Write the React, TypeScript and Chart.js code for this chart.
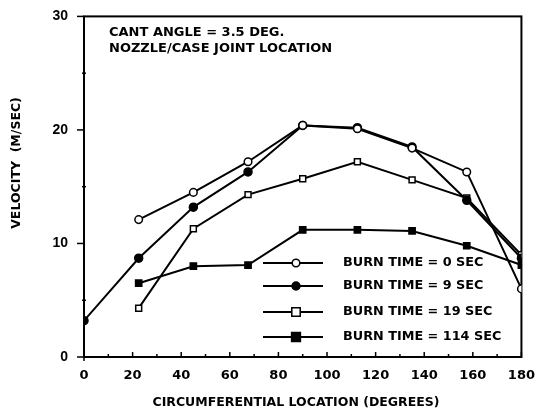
import React, { useEffect, useRef } from "react";
import { Chart, registerables } from "chart.js";

Chart.register(...registerables);

const DEGREES = [0, 22.5, 45, 67.5, 90, 112.5, 135, 157.5, 180];
const BURN_0 = [null, 12.1, 14.5, 17.2, 20.4, 20.1, 18.4, 16.3, 6.0];
const BURN_9 = [3.2, 8.7, 13.2, 16.3, 20.4, 20.2, 18.5, 13.8, 8.7];
const BURN_19 = [null, 4.3, 11.3, 14.3, 15.7, 17.2, 15.6, 14.0, 9.0];
const BURN_114 = [null, 6.5, 8.0, 8.1, 11.2, 11.2, 11.1, 9.8, 8.1];

const SERIES_LABELS = [
  "BURN TIME = 0 SEC",
  "BURN TIME = 9 SEC",
  "BURN TIME = 19 SEC",
  "BURN TIME = 114 SEC",
];
const NOTE_LINES = ["CANT ANGLE = 3.5 DEG.", "NOZZLE/CASE JOINT LOCATION"];
const X_TITLE = "CIRCUMFERENTIAL LOCATION (DEGREES)";
const Y_TITLE = "VELOCITY  (M/SEC)";

const FONT = "'DejaVu Sans', Arial, Helvetica, sans-serif";
const FONT_Y = "'Liberation Sans', Arial, Helvetica, sans-serif";

const toPoints = (vals: (number | null)[]) =>
  DEGREES.map((x, i) => ({ x, y: vals[i] })).filter((p) => p.y !== null);

const STYLES = [
  { pointStyle: "circle", fill: "#ffffff", radius: 3.8 },
  { pointStyle: "circle", fill: "#000000", radius: 4 },
  { pointStyle: "rect", fill: "#ffffff", radius: 4.2 },
  { pointStyle: "rect", fill: "#000000", radius: 4.4 },
];

const decorPlugin = {
  id: "decor",
  beforeDatasetsDraw(chart: any) {
    const { ctx, chartArea: a, scales } = chart;
    const xs = scales.x;
    const ys = scales.y;
    ctx.save();
    ctx.strokeStyle = "#000";
    ctx.lineWidth = 2;
    ctx.strokeRect(a.left, a.top, a.right - a.left, a.bottom - a.top);
    ctx.lineWidth = 1.5;
    for (let v = 0; v <= 180; v += 10) {
      const px = xs.getPixelForValue(v);
      const len = v % 20 === 0 ? 5 : 3;
      ctx.beginPath();
      ctx.moveTo(px, a.bottom);
      ctx.lineTo(px, a.bottom - len);
      ctx.stroke();
    }
    ctx.beginPath();
    ctx.moveTo(a.left, a.bottom);
    ctx.lineTo(a.left, a.bottom + 4);
    ctx.stroke();
    for (let v = 0; v <= 30; v += 5) {
      const py = ys.getPixelForValue(v);
      ctx.beginPath();
      if (v % 10 === 0) {
        ctx.moveTo(a.left - 7, py);
        ctx.lineTo(a.left, py);
      } else {
        ctx.moveTo(a.left - 2, py);
        ctx.lineTo(a.left + 2, py);
      }
      ctx.stroke();
    }
    ctx.restore();
  },
  afterDatasetsDraw(chart: any) {
    const { ctx } = chart;
    ctx.save();
    ctx.fillStyle = "#000";
    ctx.strokeStyle = "#000";
    ctx.font = `bold 13px ${FONT}`;
    ctx.textBaseline = "middle";
    ctx.textAlign = "left";
    ctx.fillText(NOTE_LINES[0], 109, 33);
    ctx.fillText(NOTE_LINES[1], 109, 48.5);
    const rows = [263, 286, 312, 337];
    rows.forEach((y, i) => {
      const st = STYLES[i];
      ctx.lineWidth = 2;
      ctx.beginPath();
      ctx.moveTo(263, y);
      ctx.lineTo(323, y);
      ctx.stroke();
      ctx.lineWidth = 1.5;
      ctx.fillStyle = st.fill;
      ctx.beginPath();
      if (st.pointStyle === "circle") {
        ctx.arc(296, y, st.radius, 0, Math.PI * 2);
      } else {
        ctx.rect(296 - st.radius, y - st.radius, st.radius * 2, st.radius * 2);
      }
      ctx.fill();
      ctx.stroke();
      ctx.fillStyle = "#000";
      ctx.font = `bold 12.8px ${FONT}`;
      ctx.fillText(SERIES_LABELS[i], 343, y);
    });
    ctx.font = `bold 12.5px ${FONT}`;
    ctx.textAlign = "center";
    ctx.fillText(X_TITLE, 296, 403);
    ctx.save();
    ctx.translate(17, 163);
    ctx.rotate(-Math.PI / 2);
    ctx.font = `bold 12.5px ${FONT}`;
    ctx.fillText(Y_TITLE, 0, 0);
    ctx.restore();
    ctx.restore();
  },
};

export default function App() {
  const ref = useRef<HTMLCanvasElement | null>(null);
  useEffect(() => {
    document.body.style.margin = "0";
    const canvas = ref.current;
    if (!canvas) return;
    const seriesVals = [BURN_0, BURN_9, BURN_19, BURN_114];
    const chart = new Chart(canvas, {
      type: "line",
      data: {
        datasets: seriesVals.map((vals, i) => ({
          label: SERIES_LABELS[i],
          data: toPoints(vals),
          borderColor: "#000",
          borderWidth: 2,
          pointStyle: STYLES[i].pointStyle as any,
          pointRadius: STYLES[i].radius,
          pointBackgroundColor: STYLES[i].fill,
          pointBorderColor: "#000",
          pointBorderWidth: 1.5,
          tension: 0,
          fill: false,
        })),
      },
      options: {
        responsive: false,
        animation: false,
        devicePixelRatio: 1,
        layout: { padding: { top: 12, right: 14, left: 0, bottom: 0 } },
        plugins: {
          legend: { display: false },
          tooltip: { enabled: false },
        },
        scales: {
          x: {
            type: "linear",
            min: 0,
            max: 180,
            afterFit: (s: any) => {
              s.height = 60;
            },
            ticks: {
              stepSize: 20,
              color: "#000",
              padding: 5,
              maxRotation: 0,
              font: { family: FONT, size: 13, weight: "bold" },
            },
            grid: {
              display: true,
              drawOnChartArea: false,
              drawTicks: true,
              tickLength: 6,
              color: "rgba(0,0,0,0)",
            },
            border: { display: false },
          },
          y: {
            type: "linear",
            min: 0,
            max: 30,
            afterFit: (s: any) => {
              s.width = 84;
            },
            ticks: {
              stepSize: 10,
              color: "#000",
              padding: 8,
              font: { family: FONT_Y, size: 14, weight: "bold" },
            },
            grid: {
              display: true,
              drawOnChartArea: false,
              drawTicks: true,
              tickLength: 8,
              color: "rgba(0,0,0,0)",
            },
            border: { display: false },
          },
        },
      },
      plugins: [decorPlugin],
    });
    return () => chart.destroy();
  }, []);
  return (
    <div style={{ width: 540, height: 417 }}>
      <canvas ref={ref} width={540} height={417} style={{ display: "block" }} />
    </div>
  );
}
